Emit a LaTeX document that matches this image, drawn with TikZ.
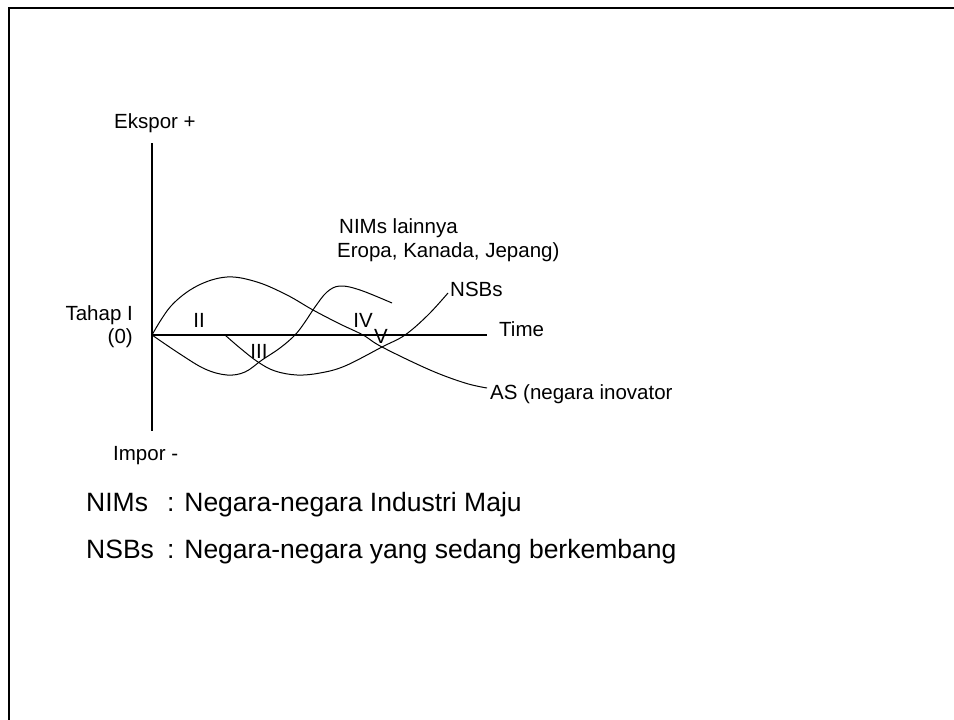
\documentclass[tikz,border=0pt]{standalone}
\usepackage{fontspec}
\setmainfont{Liberation Sans}
\begin{document}
\begin{tikzpicture}[x=1pt,y=-1pt,
  lbl/.style={font=\fontsize{20.5}{24}\selectfont, inner sep=0pt},
  leg/.style={font=\fontsize{26.5}{30}\selectfont, inner sep=0pt, anchor=base west},
  framestyle/.style={line width=2pt},
  axisline/.style={line width=2pt},
  curveline/.style={line width=1pt, smooth, tension=0.6}]
\useasboundingbox (0,0) rectangle (954,720);
% frame
\coordinate (fb) at (9,722);
\coordinate (fc) at (9,7.5);
\coordinate (fr) at (956,7.5);
\draw[framestyle] (fb) -- (fc) -- (fr);
% axes
\coordinate (O) at (152,335);
\coordinate (ytop) at (152,143);
\coordinate (ybot) at (152,431);
\coordinate (xend) at (487,335);
\draw[axisline] (ytop) -- (ybot);
\draw[axisline] (O) -- (xend);
% labels
\node[lbl, anchor=base west] (ekspor) at (114,128.5) {Ekspor +};
\node[lbl, anchor=base east] (tahap) at (133,320) {Tahap I};
\node[lbl, anchor=base east] (nol) at (133,343) {(0)};
\node[lbl, anchor=base west] (impor) at (113,460) {Impor -};
\node[lbl, anchor=base west] (time) at (499,336.5) {Time};
\node[lbl, anchor=base west] (nsbs) at (450,296.5) {NSBs};
\node[lbl, anchor=base west] (as) at (490,399.5) {AS (negara inovator};
\node[lbl, anchor=base west] (nims1) at (339,233.5) {NIMs lainnya};
\node[lbl, anchor=base west] (nims2) at (337,257.5) {Eropa, Kanada, Jepang)};
\node[lbl, anchor=base] (r2) at (199,327) {II};
\node[lbl, anchor=base] (r3) at (259,358) {III};
\node[lbl, anchor=base] (r4) at (363,327) {IV};
\node[lbl, anchor=base] (r5) at (381,343) {V};
% legend
\node[leg] (k1) at (86,511.5) {NIMs};
\node[leg] (d1) at (167,511.5) {: Negara-negara Industri Maju};
\node[leg] (k2) at (86,558.5) {NSBs};
\node[leg] (d2) at (167,558.5) {: Negara-negara yang sedang berkembang};
% curves
\coordinate (asend) at (487,388);
\coordinate (nimsend) at (392,303);
\coordinate (nsbstart) at (225,335);
\coordinate (nsbend) at (448,293);
% AS (innovator)
\draw[curveline] plot coordinates {(O) (171,306) (197,286) (227,277) (257,282) (287,295) (313,310) (340,324) (363,335) (382,347) (430,370) (465,383) (asend)};
% NIMs lainnya
\draw[curveline] plot coordinates {(O) (180,354) (205,369) (227,375) (245,372) (262,360) (280,348) (295,335) (305,322) (315,307) (327,292) (340,286) (360,290) (nimsend)};
% NSBs
\draw[curveline] plot coordinates {(nsbstart) (240,348) (258,362) (275,371) (297,375) (320,373) (345,366) (382,347) (405,335) (428,315) (nsbend)};
\end{tikzpicture}
\end{document}
